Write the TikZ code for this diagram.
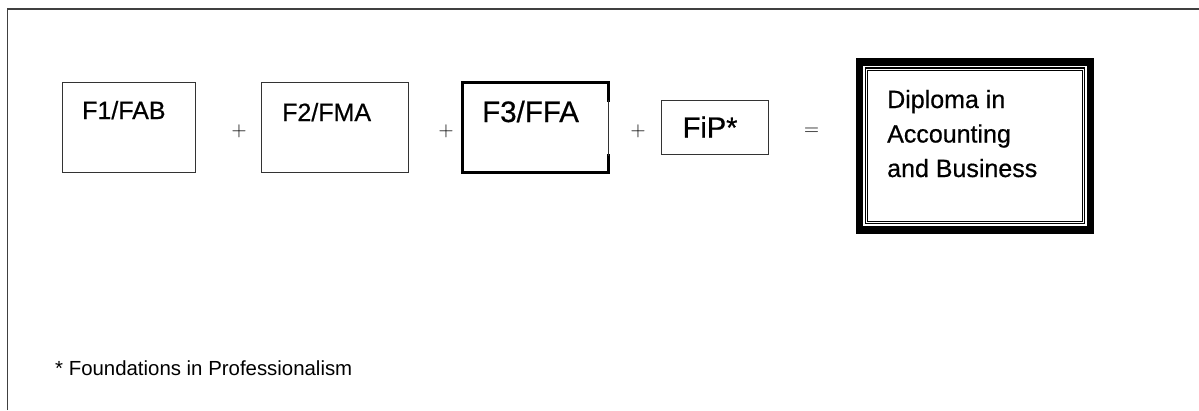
\documentclass[tikz,border=0pt]{standalone}
\usepackage{fontspec}
\setmainfont{Liberation Sans}
\newfontfamily\boxfont{Liberation Sans}[FakeBold=0.6]
\usetikzlibrary{calc}
\begin{document}
\begin{tikzpicture}[x=1pt,y=-1pt,
  modbox/.style={draw=black!80, line width=1pt, inner sep=0pt, minimum width=#1},
  lbl/.style={anchor=base west, inner sep=0pt, font=\boxfont\fontsize{25}{25}\selectfont},
  opsign/.style={inner sep=0pt, font=\fontsize{22}{22}\selectfont},
  thickline/.style={line width=3pt, line cap=rect},
]
\useasboundingbox (0,0) rectangle (1199,410);
% outer frame (top and left edges)
\coordinate (frameBL) at (7.5,410);
\coordinate (frameTL) at (7.5,9);
\coordinate (frameTR) at (1199,9);
\draw[black!75, line width=1.4pt] (frameBL) -- (frameTL) -- (frameTR);

% F1
\node[modbox=133pt, minimum height=90.5pt] (f1) at (128.5,127.3) {};
\node[lbl] (t1) at (82,119) {F1/FAB};
\node[opsign] (p1) at (239,131) {$+$};

% F2
\node[modbox=146.5pt, minimum height=90.5pt] (f2) at (334.8,127.3) {};
\node[lbl] (t2) at (282,121) {F2/FMA};
\node[opsign] (p2) at (446,131) {$+$};

% F3 (thick)
\node[inner sep=0pt, minimum width=146pt, minimum height=90pt] (f3) at (535.3,127.4) {};
\draw[thickline] ($(f3.north east)+(0,18)$) -- (f3.north east) -- (f3.north west)
  -- (f3.south west) -- (f3.south east) -- ($(f3.south east)+(0,-17)$);
\draw[black!80, line width=0.8pt] ($(f3.north east)+(0,18)$) -- ($(f3.south east)+(0,-17)$);
\node[lbl, font=\boxfont\fontsize{29.5}{29.5}\selectfont] (t3) at (482,122) {F3/FFA};
\node[opsign] (p3) at (638,131) {$+$};

% FiP
\node[modbox=107.7pt, minimum height=54pt] (fip) at (714.9,127) {};
\node[lbl, font=\boxfont\fontsize{29}{29}\selectfont] (t4) at (682.5,137.5) {FiP*};
\node[opsign] (eq) at (811.5,131.5) {$=$};

% Diploma
\node[inner sep=0pt, minimum width=238.3pt, minimum height=175pt] (dip) at (974.85,145.8) {};
\draw[line width=7.5pt] ($(dip.north west)+(3.75,3.75)$) rectangle ($(dip.south east)+(-3.75,-3.75)$);
\draw[line width=1.3pt] ($(dip.north west)+(9.8,9.8)$) rectangle ($(dip.south east)+(-9.8,-9.8)$);
\draw[line width=0.9pt] ($(dip.north west)+(12.2,12.2)$) rectangle ($(dip.south east)+(-12.2,-12.2)$);
\node[lbl] (d1) at (887,108) {Diploma in};
\node[lbl] (d2) at (887,142.5) {Accounting};
\node[lbl] (d3) at (887,177) {and Business};

% footnote
\node[anchor=base west, inner sep=0pt, font=\fontsize{20.4}{20.4}\selectfont] (fn) at (55,375) {* Foundations in Professionalism};
\end{tikzpicture}
\end{document}
